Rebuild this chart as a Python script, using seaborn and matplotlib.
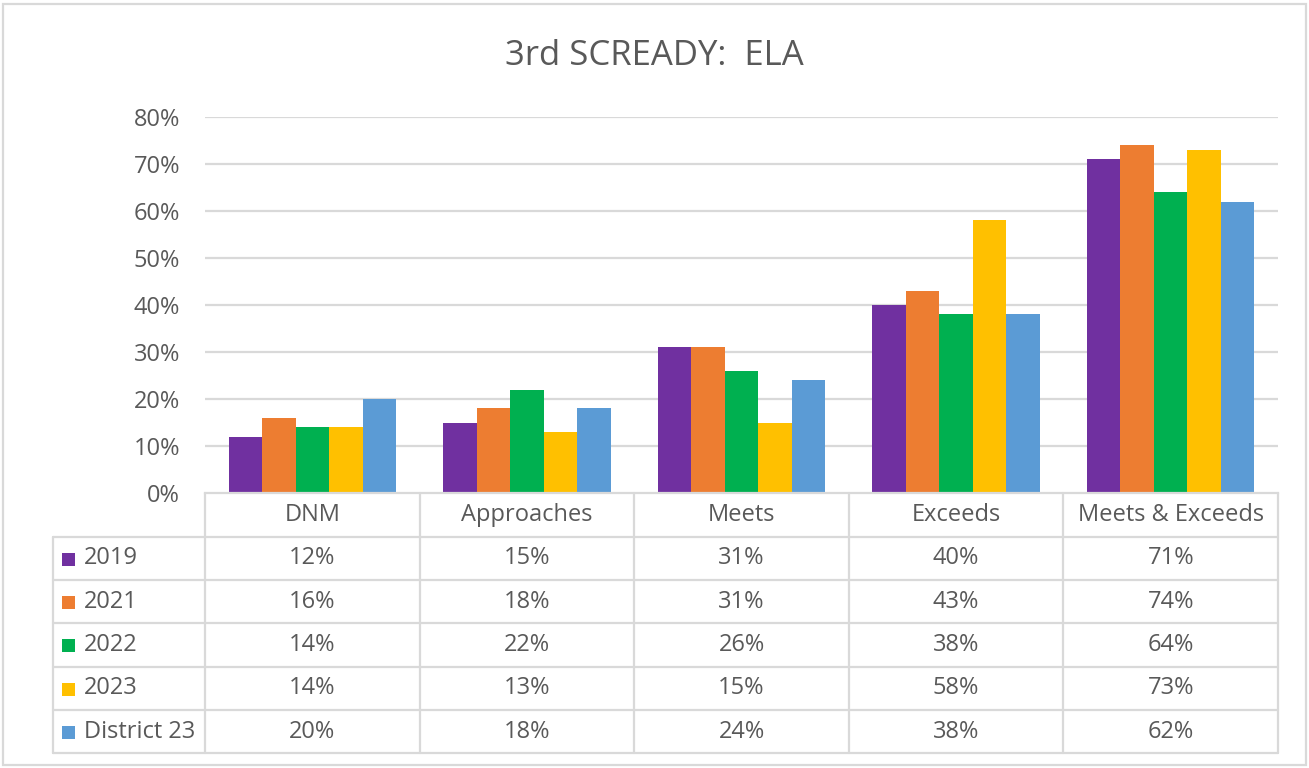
import matplotlib
matplotlib.use("Agg")
import matplotlib.pyplot as plt
import seaborn as sns
import pandas as pd
from matplotlib.patches import Rectangle
from matplotlib.lines import Line2D

categories = ["DNM", "Approaches", "Meets", "Exceeds", "Meets & Exceeds"]
series_names = ["2019", "2021", "2022", "2023", "District 23"]
v2019 = [12, 15, 31, 40, 71]
v2021 = [16, 18, 31, 43, 74]
v2022 = [14, 22, 26, 38, 64]
v2023 = [14, 13, 15, 58, 73]
vdist = [20, 18, 24, 38, 62]
colors = ["#7030A0", "#ED7D31", "#00B050", "#FFC000", "#5B9BD5"]
yticks = [0, 10, 20, 30, 40, 50, 60, 70, 80]
title = "3rd SCREADY:  ELA"

all_vals = [v2019, v2021, v2022, v2023, vdist]
rows = []
for name, vals in zip(series_names, all_vals):
    for c, v in zip(categories, vals):
        rows.append({"Category": c, "Series": name, "Value": v})
df = pd.DataFrame(rows)

sns.set_theme(style="white")
FONT = ["Open Sans", "DejaVu Sans"]
plt.rcParams["font.family"] = FONT
TXT = "#595959"
GRID = "#D9D9D9"
FS = 17

W, H = 1309, 768
fig = plt.figure(figsize=(W / 100, H / 100), dpi=100)

def fx(px):
    return px / W

def fy(py):
    return 1 - py / H

x0, x1 = 205, 1278
y_top, y_bot = 117, 493
ax = fig.add_axes([fx(x0), fy(y_bot), fx(x1) - fx(x0), fy(y_top) - fy(y_bot)])

sns.barplot(data=df, x="Category", y="Value", hue="Series", order=categories,
            hue_order=series_names, palette=colors, width=0.78, ax=ax,
            legend=False, saturation=1, edgecolor="none")

ax.set_ylim(0, 80)
ax.set_xlim(-0.5, len(categories) - 0.5)
ax.set_yticks(yticks)
ax.set_yticklabels([f"{t}%" for t in yticks], color=TXT, fontsize=FS)
ax.set_xticks([])
ax.set_xlabel("")
ax.set_ylabel("")
ax.tick_params(axis="y", length=0, pad=18)
for t in yticks:
    if t > 0:
        ax.axhline(t, color=GRID, lw=1.6, zorder=0)
for s in ["top", "right", "left"]:
    ax.spines[s].set_visible(False)
ax.spines["bottom"].set_color(GRID)
ax.spines["bottom"].set_linewidth(1.6)
ax.set_axisbelow(True)

# Title
fig.text(0.5, fy(56), title, ha="center", va="center", fontsize=25, color=TXT)

# Data table
col_w = (x1 - x0) / len(categories)
col_edges = [x0 + i * col_w for i in range(len(categories) + 1)]
row_edges = [493, 537, 580, 623, 667, 710, 753]
left_x = 53

def line(xa, ya, xb, yb):
    fig.add_artist(Line2D([fx(xa), fx(xb)], [fy(ya), fy(yb)], color=GRID, lw=1.6))

for xe in col_edges:
    line(xe, row_edges[0], xe, row_edges[-1])
line(left_x, row_edges[1], left_x, row_edges[-1])
for ye in row_edges[1:]:
    line(left_x, ye, x1, ye)

for i, c in enumerate(categories):
    cx = col_edges[i] + col_w / 2
    fig.text(fx(cx), fy((row_edges[0] + row_edges[1]) / 2), c, ha="center",
             va="center", fontsize=FS, color=TXT)

for r, (name, vals, col) in enumerate(zip(series_names, all_vals, colors)):
    cy = (row_edges[r + 1] + row_edges[r + 2]) / 2
    fig.add_artist(Rectangle((fx(62), fy(cy + 7)), fx(13), fy(0) - fy(13),
                             facecolor=col, edgecolor="none"))
    fig.text(fx(84), fy(cy), name, ha="left", va="center", fontsize=FS, color=TXT)
    for i, v in enumerate(vals):
        cx = col_edges[i] + col_w / 2
        fig.text(fx(cx), fy(cy), f"{v}%", ha="center", va="center",
                 fontsize=FS, color=TXT)

# Outer border
fig.add_artist(Rectangle((fx(3), fy(765)), fx(1303), fy(0) - fy(761),
                         facecolor="none", edgecolor=GRID, lw=1.6))

fig.savefig("out.png", dpi=100, facecolor="white")
